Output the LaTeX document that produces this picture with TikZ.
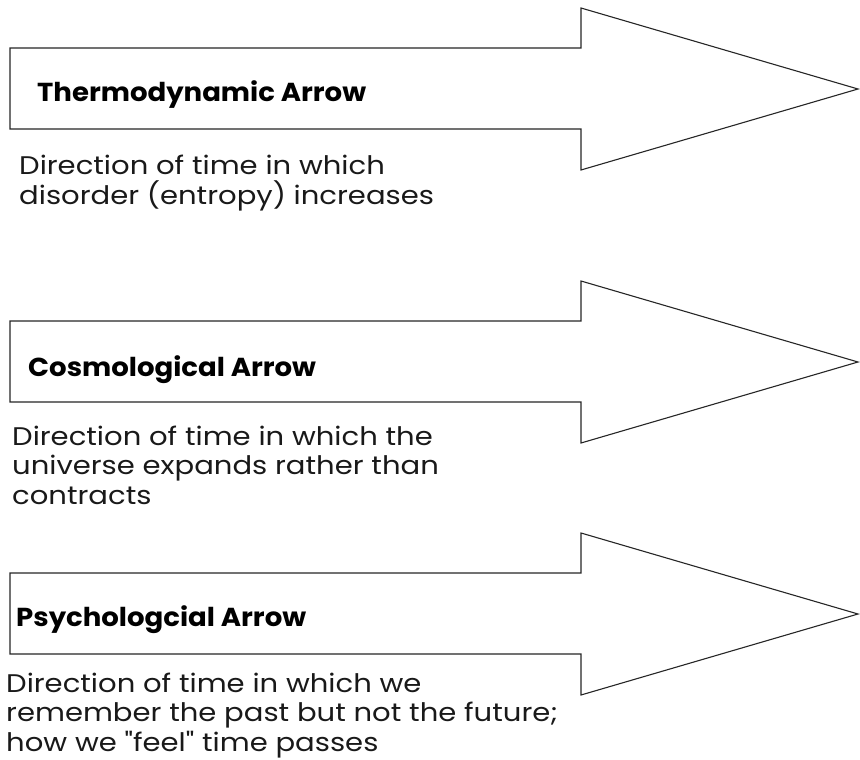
\documentclass[tikz,border=0pt]{standalone}
\usepackage{fontspec}
\setmainfont{Poppins}
\newfontfamily\titlefont{Poppins}[FakeStretch=1.06]
\newfontfamily\descfont{Poppins}[FakeStretch=1.14]
\usepackage{tikz}
\usetikzlibrary{positioning}
\tikzset{
    timearrows/.style={
        x=1pt, y=-1pt,
        bigarrow/.style={draw=black!85, line width=1.1pt, fill=white, line join=miter},
        title/.style={anchor=base west, inner sep=0pt, font=\titlefont\bfseries\fontsize{26}{30}\selectfont},
        desc/.style={anchor=base west, inner sep=0pt, align=left, text=black!90, font=\descfont\fontsize{25.5}{29.5}\selectfont}
    }
}

\begin{document}
\begin{tikzpicture}[timearrows]
        \useasboundingbox (0, 0) rectangle (860, 760);

        % Block arrows (shaft top given)
        \foreach \y in {48, 321, 573} {
            \draw[bigarrow] (10, \y) -- (581, \y) -- (581, \y-40) -- (858, \y+41)
                -- (581, \y+122) -- (581, \y+81) -- (10, \y+81) -- cycle;
        }

        % Titles
        \node[title] (thermo) at (37, 102) {Thermodynamic Arrow};
        \node[title] (cosmo) at (28, 376) {Cosmological Arrow};
        \node[title] (psycho) at (16, 626) {Psychologcial Arrow};

        % Descriptions (anchored on last line)
        \node[desc] (thermodesc) at (19, 204) {Direction of time in which\\disorder (entropy) increases};
        \node[desc] (cosmodesc) at (12, 504) {Direction of time in which the\\universe expands rather than\\contracts};
        \node[desc] (psychodesc) at (6, 751) {Direction of time in which we\\remember the past but not the future;\\how we "feel" time passes};

    \end{tikzpicture}
\end{document}
